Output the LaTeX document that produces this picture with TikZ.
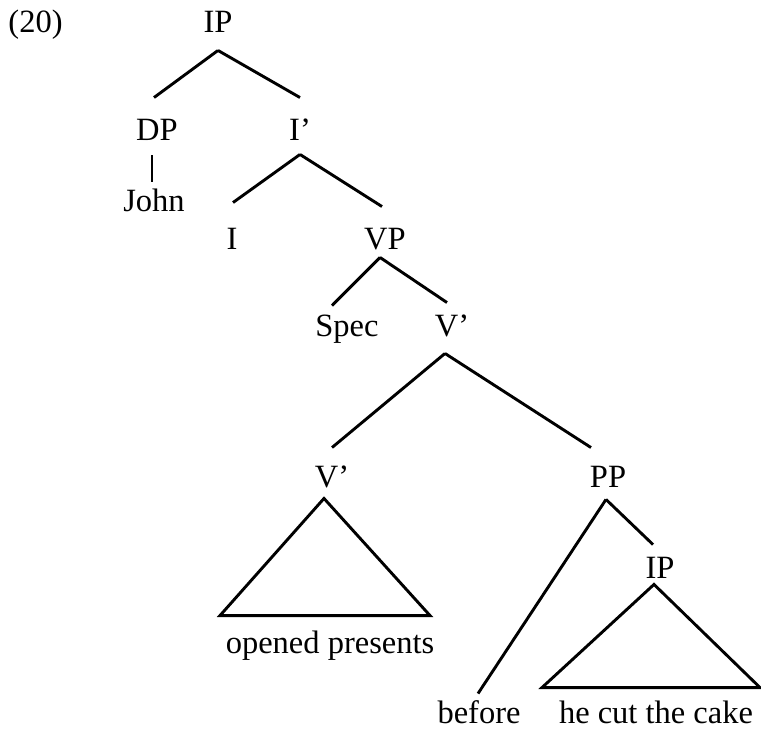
\documentclass[tikz,border=0pt]{standalone}
\usepackage{fontspec}
\setmainfont{Liberation Serif}
\usepackage{tikz}

\begin{document}
\begin{tikzpicture}[x=1pt,y=-1pt,line width=2.9pt,
    cat/.style={inner sep=0pt,anchor=base,text height=21pt,text depth=0pt},
    font=\fontsize{32.5}{38}\selectfont]
    \useasboundingbox (0,0) rectangle (761,730);
    \node[cat,anchor=base west] (num) at (7,33) {(20)};
    % labels, placed on their baselines
    \node[cat] (ip) at (218,33) {IP};
    \node[cat] (dp) at (157,141) {DP};
    \node[cat] (ibar) at (300,141) {I’};
    \node[cat] (john) at (154,212) {John};
    \node[cat] (i) at (232,250) {I};
    \node[cat] (vp) at (385,250) {VP};
    \node[cat] (spec) at (347,337) {Spec};
    \node[cat] (vbar) at (452,337) {V’};
    \node[cat] (vbarlo) at (332,487) {V’};
    \node[cat] (pp) at (608,487) {PP};
    \node[cat] (opened) at (330,653) {opened presents};
    \node[cat] (iplo) at (660,578) {IP};
    \node[cat] (before) at (479,723) {before};
    \node[cat] (cake) at (656,723) {he cut the cake};
    % branches
    \draw ([yshift=-16pt]ip.south) -- ([xshift=-3pt,yshift=21pt]dp.north);
    \draw ([yshift=-16pt]ip.south) -- ([yshift=21pt]ibar.north);
    \draw ([xshift=-5pt,yshift=-13pt]dp.south) -- ([xshift=-2pt,yshift=8pt]john.north);
    \draw ([yshift=-12pt]ibar.south) -- ([xshift=1pt,yshift=25pt]i.north);
    \draw ([yshift=-12pt]ibar.south) -- ([xshift=-3pt,yshift=21pt]vp.north);
    \draw ([xshift=-5pt,yshift=-6pt]vp.south) -- ([xshift=-15pt,yshift=9pt]spec.north);
    \draw ([xshift=-5pt,yshift=-6pt]vp.south) -- ([xshift=-5pt,yshift=12pt]vbar.north);
    \draw ([xshift=-7pt,yshift=-15pt]vbar.south) -- ([yshift=17pt]vbarlo.north);
    \draw ([xshift=-7pt,yshift=-15pt]vbar.south) -- ([xshift=-17pt,yshift=17pt]pp.north);
    \draw ([xshift=-2pt,yshift=-11pt]pp.south) -- ([xshift=-1pt,yshift=7pt]before.north);
    \draw ([xshift=-2pt,yshift=-11pt]pp.south) -- ([xshift=-7pt,yshift=11pt]iplo.north);
    % roofs
    \draw ([xshift=-8pt,yshift=-10pt]vbarlo.south) -- ([xshift=-110pt,yshift=15pt]opened.north)
      -- ([xshift=100pt,yshift=15pt]opened.north) -- cycle;
    \draw ([xshift=-6pt,yshift=-5pt]iplo.south) -- ([xshift=-114pt,yshift=13pt]cake.north)
      -- ([xshift=104pt,yshift=13pt]cake.north) -- cycle;
\end{tikzpicture}
\end{document}
